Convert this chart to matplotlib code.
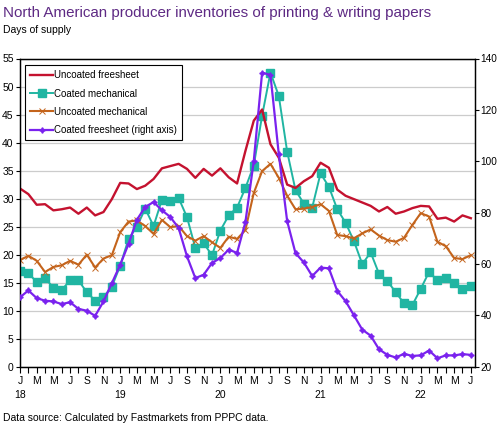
import numpy as np
import matplotlib
matplotlib.use('Agg')
from matplotlib import pyplot as plt

plt.rcParams['font.family'] = ['Liberation Sans Narrow', 'Liberation Sans', 'DejaVu Sans']

# Monthly data, Jan 2018 - Jul 2022 (days of supply)
uncoated_freesheet = [31.8, 30.8, 28.9, 29.0, 27.9, 28.1, 28.4, 27.3, 28.4, 27.0,
                      27.6, 29.9, 32.8, 32.7, 31.7, 32.3, 33.5, 35.4, 35.8, 36.2,
                      35.3, 33.7, 35.3, 34.1, 35.4, 33.8, 32.7, 38.5, 43.9, 45.9,
                      39.7, 37.3, 32.5, 31.9, 33.1, 34.0, 36.4, 35.5, 31.6, 30.5,
                      29.9, 29.3, 28.7, 27.7, 28.5, 27.3, 27.7, 28.3, 28.7, 28.6,
                      26.4, 26.6, 25.9, 27.0, 26.5]
coated_mechanical = [17.0, 16.7, 15.1, 15.8, 14.1, 13.7, 15.4, 15.4, 13.3, 11.8,
                     12.4, 14.3, 18.0, 22.8, 25.0, 28.2, 25.1, 29.8, 29.5, 30.1,
                     26.7, 21.2, 22.0, 19.9, 24.3, 27.0, 28.4, 31.9, 35.9, 44.8,
                     52.5, 48.3, 38.4, 31.5, 29.1, 28.4, 34.5, 32.1, 28.1, 25.7,
                     22.4, 18.3, 20.4, 16.6, 15.3, 13.3, 11.3, 11.0, 13.9, 16.9,
                     15.4, 15.9, 14.9, 13.9, 14.4]
uncoated_mechanical = [19.0, 19.8, 18.9, 16.9, 17.8, 18.1, 18.9, 18.2, 20.0, 17.7,
                       19.3, 19.9, 24.0, 25.9, 26.1, 25.1, 23.7, 26.2, 24.9, 25.1,
                       23.3, 22.5, 23.3, 22.2, 21.2, 23.2, 22.8, 24.4, 31.0, 34.9,
                       36.2, 33.7, 30.5, 28.1, 28.2, 28.5, 29.0, 27.8, 23.5, 23.3,
                       22.9, 23.8, 24.5, 23.4, 22.6, 22.3, 23.0, 25.3, 27.4, 26.8,
                       22.3, 21.5, 19.4, 19.2, 19.9]
coated_freesheet = [47.0, 49.7, 46.7, 45.7, 45.4, 44.4, 45.1, 42.5, 41.8, 39.8,
                    45.4, 52.5, 59.7, 67.8, 77.2, 82.2, 84.1, 80.9, 78.3, 74.0,
                    63.0, 54.5, 55.8, 60.4, 62.3, 65.6, 64.3, 76.3, 100.1, 134.5,
                    133.6, 102.7, 76.7, 64.2, 60.6, 55.3, 58.6, 58.3, 49.5, 45.5,
                    40.0, 34.4, 32.1, 26.8, 24.6, 23.6, 25.0, 24.2, 24.4, 26.3,
                    23.3, 24.4, 24.4, 24.9, 24.6]
month_letters = list('JFMAMJJASOND')
first_year = 18

n = len(uncoated_freesheet)
x = np.arange(n)

fig = plt.figure(figsize=(4.99, 4.26), dpi=100)
ax = fig.add_axes([20 / 499, 1 - 366.7 / 426, 455 / 499, 308.2 / 426])
ax2 = ax.twinx()

red = '#C4122F'
teal = '#20B5A2'
orange = '#C4641C'
purple = '#7A22EE'

l1, = ax.plot(x, uncoated_freesheet, color=red, lw=1.7, label='Uncoated freesheet', zorder=4)
l2, = ax.plot(x, coated_mechanical, color=teal, lw=1.4, marker='s', ms=5.5,
              label='Coated mechanical', zorder=3)
l3, = ax.plot(x, uncoated_mechanical, color=orange, lw=1.5, marker='x', ms=4.5,
              mew=0.7, label='Uncoated mechanical', zorder=3)
l4, = ax2.plot(x, coated_freesheet, color=purple, lw=1.6, marker=(4, 1, 0), ms=4,
               label='Coated freesheet (right axis)', zorder=3)

ax.set_xlim(0, 54.5)
ax.set_ylim(0, 55)
ax2.set_ylim(20, 140)
ax.set_yticks(np.arange(0, 56, 5))
ax2.set_yticks(np.arange(20, 141, 20))
ax.yaxis.grid(True, color='#cccccc', lw=0.9)
ax.set_axisbelow(True)

labels = []
for i in x:
    if i % 2 == 0:
        lab = month_letters[i % 12]
        if i % 12 == 0:
            lab += '\n' + str(first_year + i // 12)
        labels.append(lab)
    else:
        labels.append('')
ax.set_xticks(x)
ax.set_xticklabels(labels, linespacing=1.5)

ax.tick_params(axis='x', length=4, width=0.8, labelsize=7.5, pad=3)
ax.tick_params(axis='y', length=3, width=0.8, labelsize=7.5, pad=1.5)
ax2.tick_params(axis='y', length=3, width=0.8, labelsize=7.2, pad=1)
for a in (ax, ax2):
    for s in a.spines.values():
        s.set_color('black')
        s.set_linewidth(0.9)

leg = ax2.legend(handles=[l1, l2, l3, l4], loc='upper left',
                 bbox_to_anchor=(0.011, 0.979), fontsize=7, frameon=True,
                 fancybox=False, edgecolor='black', framealpha=1,
                 handlelength=2.3, handletextpad=0.1, labelspacing=0.85,
                 borderpad=0.55, borderaxespad=0)
leg.get_frame().set_linewidth(0.8)

fig.text(3 / 499, 1 - 13 / 426, 'North American producer inventories of printing & writing papers',
         fontsize=10.9, color='#5E2A84', va='center', ha='left')
fig.text(3 / 499, 1 - 30 / 426, 'Days of supply', fontsize=7.5, color='black',
         va='center', ha='left')
fig.text(3 / 499, 1 - 418 / 426, 'Data source: Calculated by Fastmarkets from PPPC data.',
         fontsize=7.5, color='black', va='center', ha='left')

fig.savefig('out.png', dpi=100)
